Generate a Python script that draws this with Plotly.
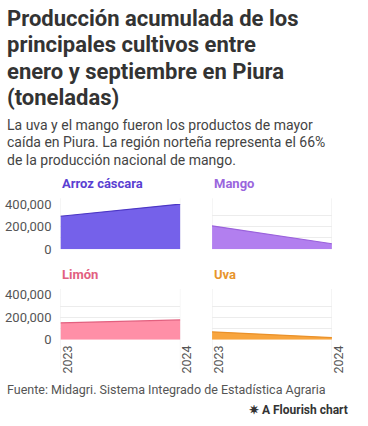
import plotly.graph_objects as go

years = [2023, 2024]
crops = ["Arroz cáscara", "Mango", "Limón", "Uva"]
arroz = [292000, 400000]
mango = [207000, 48000]
limon = [151000, 177000]
uva = [71000, 20000]
series = [arroz, mango, limon, uva]

title_lines = ["Producción acumulada de los", "principales cultivos entre",
               "enero y septiembre en Piura", "(toneladas)"]
subtitle_lines = ["La uva y el mango fueron los productos de mayor",
                  "caída en Piura. La región norteña representa el 66%",
                  "de la producción nacional de mango."]
source = "Fuente: Midagri. Sistema Integrado de Estadística Agraria"
yticks = [0, 100000, 200000, 300000, 400000]
ytick_text = ["0", "", "200,000", "", "400,000"]

W, H = 368, 426
FONT = "Roboto"
line_cols = ["#4b36c4", "#9a62db", "#e2607f", "#ea912a"]
fill_cols = ["#7561ea", "#b27fef", "#ff8fa7", "#f8a53e"]
title_cols = ["#5a3fd2", "#9a66dd", "#e2607f", "#e8952c"]

# panel geometry in pixels: (x0, x1, y_top(400k), y_zero)
panels = [(62, 187, 204.3, 251), (220, 345, 204.3, 251),
          (62, 187, 298.3, 345), (220, 345, 298.3, 345)]

fig = go.Figure()
layout = {}
annotations = []
shapes = []
for i, (vals, (x0, x1, yt, yz)) in enumerate(zip(series, panels)):
    n = i + 1
    xa = "x" if n == 1 else f"x{n}"
    ya = "y" if n == 1 else f"y{n}"
    fig.add_trace(go.Scatter(x=years, y=vals, mode="lines", fill="tozeroy",
                             line=dict(color=line_cols[i], width=1.2),
                             fillcolor=fill_cols[i], xaxis=xa, yaxis=ya,
                             showlegend=False, hoverinfo="skip"))
    bottom = i >= 2
    left = i % 2 == 0
    layout[f"xaxis{n}"] = dict(domain=[x0 / W, x1 / W], anchor=ya, range=[2023, 2024],
                               tickvals=years if bottom else [],
                               ticktext=[str(y) for y in years] if bottom else [],
                               tickangle=-90, showgrid=False, zeroline=False,
                               showline=False, ticks="", ticklabelshift=7,
                               ticklabelstandoff=2,
                               tickfont=dict(family=FONT, size=12.5, color="#555"))
    layout[f"yaxis{n}"] = dict(domain=[1 - yz / H, 1 - yt / H], anchor=xa,
                               range=[0, 400000], tickvals=yticks,
                               ticktext=ytick_text if left else [""] * 5,
                               showgrid=True, gridcolor="#ececec", gridwidth=1,
                               zeroline=False, showline=False, ticks="",
                               ticklabelstandoff=8,
                               tickfont=dict(family=FONT, size=13, color="#555"))
    for yv in years:
        shapes.append(dict(type="line", xref=xa, yref="paper", x0=yv, x1=yv,
                           y0=1 - ((yz + 30) if bottom else yz) / H, y1=1 - (yt - 6) / H,
                           line=dict(color="#ececec", width=1), layer="below"))
    annotations.append(dict(text=f"<b>{crops[i]}</b>", x=x0 / W, y=1 - (yt - 21) / H,
                            xref="paper", yref="paper", xanchor="left", yanchor="middle",
                            showarrow=False, font=dict(family=FONT, size=13, color=title_cols[i])))

for k, t in enumerate(title_lines):
    annotations.append(dict(text=f"<b>{t}</b>", x=4 / W, y=1 - (12 + 27.2 * k) / H,
                            xref="paper", yref="paper", xanchor="left", yanchor="middle",
                            showarrow=False, font=dict(family=FONT, size=22, color="#333")))
for k, t in enumerate(subtitle_lines):
    annotations.append(dict(text=t, x=4 / W, y=1 - (122 + 18.3 * k) / H,
                            xref="paper", yref="paper", xanchor="left", yanchor="middle",
                            showarrow=False, font=dict(family=FONT, size=14, color="#444")))
annotations.append(dict(text=source, x=4 / W, y=1 - 396 / H, xref="paper", yref="paper",
                        xanchor="left", yanchor="middle", showarrow=False,
                        font=dict(family=FONT, size=12.5, color="#555")))
annotations.append(dict(text="<b>✷ A Flourish chart</b>", x=364 / W, y=1 - 418 / H,
                        xref="paper", yref="paper", xanchor="right", yanchor="middle",
                        showarrow=False, font=dict(family=FONT, size=12, color="#333")))

fig.update_layout(width=W, height=H, margin=dict(l=0, r=0, t=0, b=0),
                  paper_bgcolor="white", plot_bgcolor="white",
                  annotations=annotations, shapes=shapes, **layout)
fig.write_html("out.html", config={"displayModeBar": False},
               post_script="document.body.style.margin='0';document.body.style.overflow='hidden';")
